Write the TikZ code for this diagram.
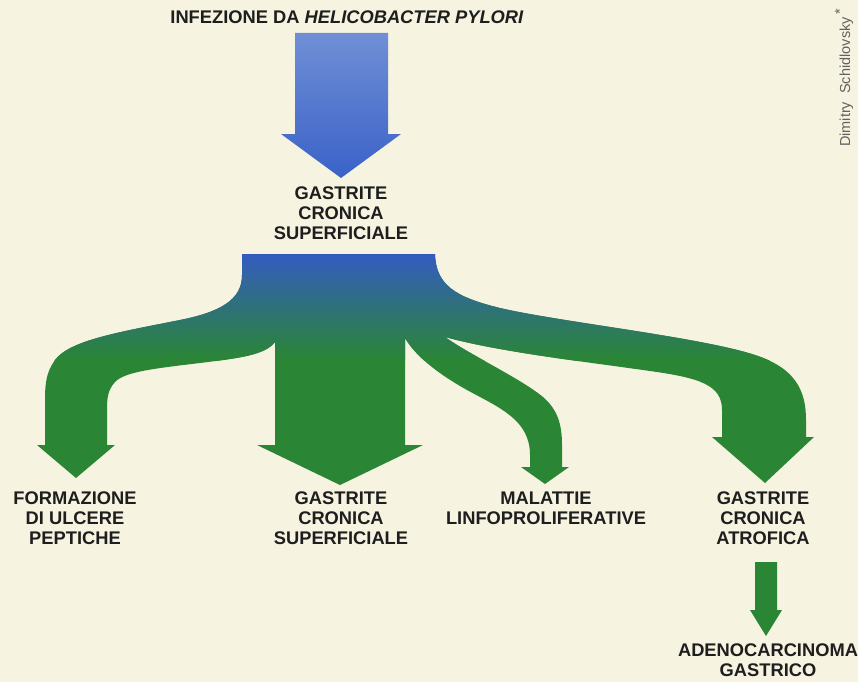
\documentclass[tikz,border=0pt]{standalone}
\usepackage{fontspec}
\setmainfont{Liberation Sans}
\usetikzlibrary{calc}
\definecolor{bgc}{RGB}{246,243,224}
\definecolor{txt}{RGB}{30,30,30}
\definecolor{gr}{RGB}{42,134,52}
\definecolor{blA}{RGB}{112,143,214}
\definecolor{blB}{RGB}{58,98,200}
\definecolor{blC}{RGB}{52,92,192}
\begin{document}
\begin{tikzpicture}[x=1pt,y=-1pt,
  lbl/.style={font=\fontsize{18.3}{20}\selectfont\bfseries, text=txt, align=center, inner sep=0pt, anchor=north},
  sig/.style={font=\fontsize{14.5}{15}\selectfont, text=black!62, inner sep=0pt, rotate=90}]
\useasboundingbox (0,0) rectangle (858,682);
\fill[bgc] (0,0) rectangle (858,682);

% top blue arrow
\shade[top color=blA, bottom color=blB]
  (295,33) -- (388,33) -- (388,134) -- (401,134) -- (341,178) -- (281,134) -- (295,134) -- cycle;

% main branching flow
\path[save path=\flowpath]
  (242,254) -- (435,254)
  .. controls (436,285) and (455,297) .. (500,308)
  .. controls (560,322) and (700,337) .. (755,355)
  .. controls (795,368) and (806,390) .. (806,420) -- (806,437)
  -- (814,437) -- (765,483) -- (712,437) -- (722,437)
  -- (722,410)
  .. controls (722,385) and (700,378) .. (650,371)
  .. controls (580,361) and (500,352) .. (445,337)
  .. controls (470,355) and (520,378) .. (543,397)
  .. controls (558,410) and (562,425) .. (562,445) -- (562,467)
  -- (569,467) -- (545,484) -- (521,467) -- (530,467)
  -- (530,455)
  .. controls (530,420) and (500,408) .. (467,390)
  .. controls (435,372) and (415,355) .. (405,338)
  -- (405,445) -- (423,445) -- (340,485) -- (257,445) -- (275,445)
  -- (275,342)
  .. controls (265,355) and (240,358) .. (200,363)
  .. controls (150,369) and (125,372) .. (115,382)
  .. controls (108,390) and (107,397) .. (107,410) -- (107,445)
  -- (115,445) -- (76,478) -- (37,445) -- (45,445)
  -- (45,400)
  .. controls (45,385) and (46,372) .. (55,360)
  .. controls (70,340) and (120,332) .. (180,320)
  .. controls (220,312) and (242,300) .. (242,275) -- cycle;
\fill[gr, use path=\flowpath];
\begin{scope}
  \clip[use path=\flowpath];
  \shade[top color=blC, bottom color=gr] (0,254) rectangle (858,360);
\end{scope}

% small arrow
\fill[gr] (755,562) -- (777,562) -- (777,610) -- (782,610) -- (766,636) -- (750,610) -- (755,610) -- cycle;

% labels
\node[lbl] (title) at (347,11) {INFEZIONE DA \textit{HELICOBACTER PYLORI}};
\node[lbl] (gcs1) at (341,187) {GASTRITE\\CRONICA\\SUPERFICIALE};
\node[lbl] (ulc) at (75,492) {FORMAZIONE\\DI ULCERE\\PEPTICHE};
\node[lbl] (gcs2) at (341,492) {GASTRITE\\CRONICA\\SUPERFICIALE};
\node[lbl] (mal) at (546,492) {MALATTIE\\LINFOPROLIFERATIVE};
\node[lbl] (gca) at (763,492) {GASTRITE\\CRONICA\\ATROFICA};
\node[lbl] (ade) at (768,644) {ADENOCARCINOMA\\GASTRICO};
\node[sig] (author) at (844,78) {Dimitry\ \ Schidlovsky\,\raisebox{0.35em}{*}};
\end{tikzpicture}
\end{document}
